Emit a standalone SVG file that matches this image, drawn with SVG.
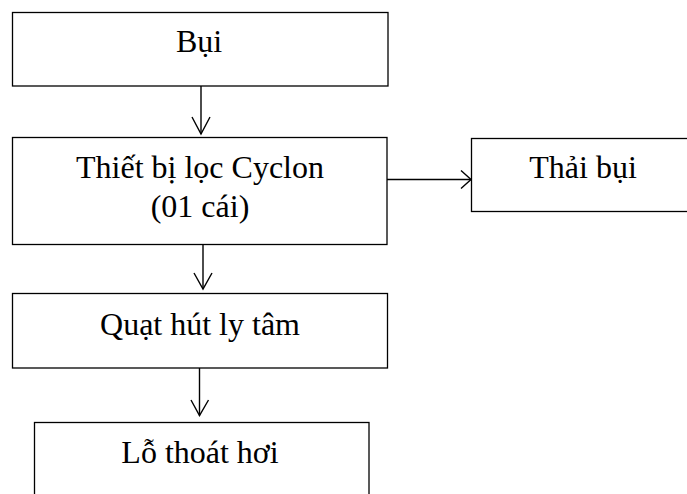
<svg xmlns="http://www.w3.org/2000/svg" width="687" height="494" viewBox="0 0 687 494">
  <style>
    .box { fill: #ffffff; stroke: #000000; stroke-width: 1.3; }
    .lbl { font-family: "Liberation Serif", "Times New Roman", serif; font-size: 32px; fill: #000000; text-anchor: middle; }
    .edge { fill: none; stroke: #000000; stroke-width: 1.4; }
  </style>
  <rect x="0" y="0" width="687" height="494" fill="#ffffff"/>
  <g id="n1">
    <rect class="box" x="12.5" y="12.5" width="375.5" height="73.5"/>
    <text class="lbl" x="199" y="52">Bụi</text>
  </g>
  <g id="n2">
    <rect class="box" x="12.5" y="137.5" width="374.5" height="107"/>
    <text class="lbl" x="200" y="178">Thiết bị lọc Cyclon</text>
    <text class="lbl" x="200" y="217">(01 cái)</text>
  </g>
  <g id="n3">
    <rect class="box" x="471.5" y="138.5" width="230" height="73"/>
    <text class="lbl" x="583" y="178">Thải bụi</text>
  </g>
  <g id="n4">
    <rect class="box" x="12.5" y="293.5" width="375" height="74.5"/>
    <text class="lbl" x="200" y="335">Quạt hút ly tâm</text>
  </g>
  <g id="n5">
    <rect class="box" x="34.5" y="422.5" width="334.5" height="100"/>
    <text class="lbl" x="200" y="463">Lỗ thoát hơi</text>
  </g>
  <g id="connectors">
    <line class="edge" x1="201" y1="86" x2="201" y2="134"/>
    <polyline class="edge" points="192,117 201,134 210,117"/>
    <line class="edge" x1="203" y1="244.5" x2="203" y2="289"/>
    <polyline class="edge" points="194,273 203,289 212,273"/>
    <line class="edge" x1="199.5" y1="368" x2="199.5" y2="415.5"/>
    <polyline class="edge" points="191,400 199.5,415.5 208.5,400"/>
    <line class="edge" x1="387" y1="179.5" x2="471" y2="179.5"/>
    <polyline class="edge" points="461,170.5 471,179.5 461,188.5"/>
  </g>
</svg>
